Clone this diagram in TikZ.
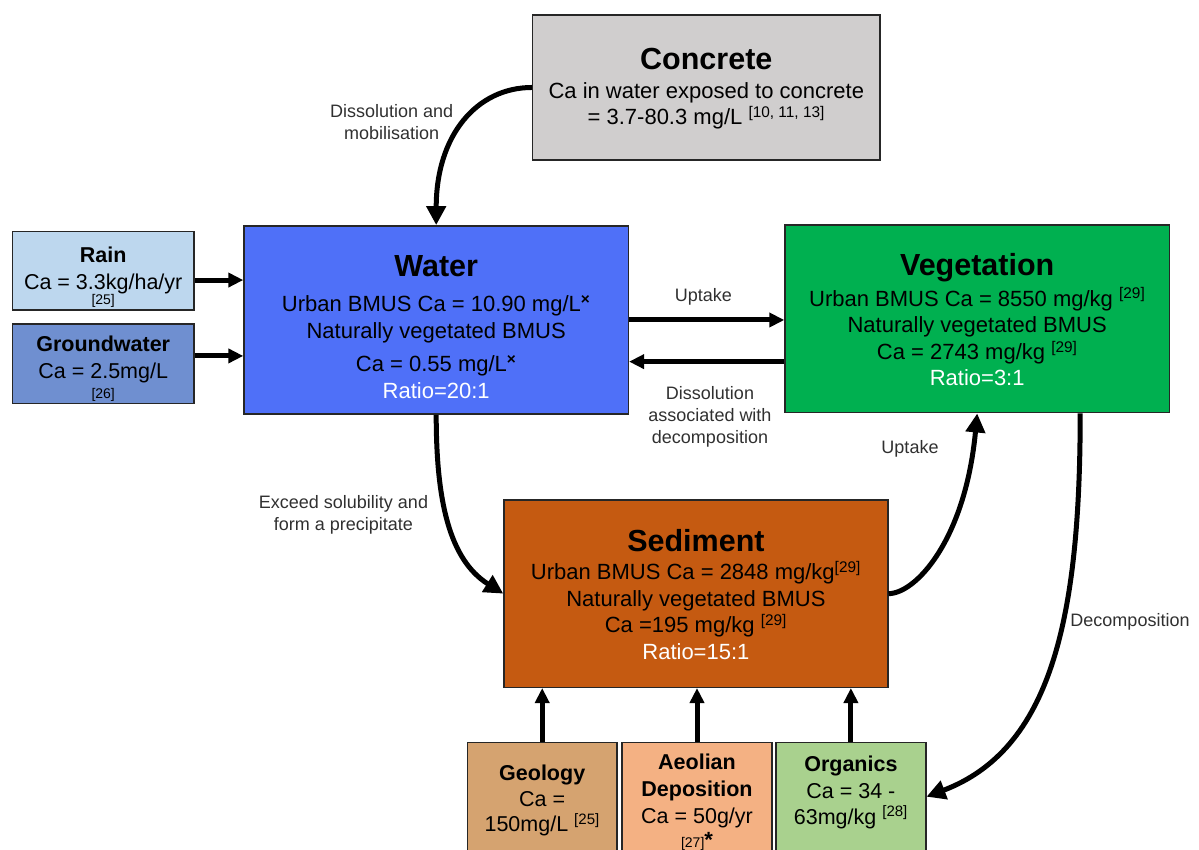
\documentclass[tikz,border=0pt]{standalone}
\usepackage{fontspec}
\setmainfont{Liberation Sans}
\usetikzlibrary{arrows.meta}

\definecolor{concretegrey}{HTML}{D0CECE}
\definecolor{rainblue}{HTML}{BDD7EE}
\definecolor{groundblue}{HTML}{6F8FD0}
\definecolor{waterblue}{HTML}{4F70F8}
\definecolor{veggreen}{HTML}{00B050}
\definecolor{sedbrown}{HTML}{C55A11}
\definecolor{geotan}{HTML}{D5A370}
\definecolor{aeolianpeach}{HTML}{F4B183}
\definecolor{organicsgreen}{HTML}{A9D18E}
\definecolor{labelgrey}{HTML}{303030}

\newcommand{\srcref}[1]{\textsuperscript{[#1]}}
\newcommand{\boxtitle}[1]{{\bfseries\fontsize{30.5}{30}\selectfont #1}}
\newcommand{\smallref}[1]{{\fontsize{14}{15}\selectfont [#1]}}

\begin{document}
\begin{tikzpicture}[x=1pt,y=1pt,
    arr/.style={line width=5pt, -{Triangle[length=15pt,width=14pt]}},
    curvearr/.style={line width=5pt, -{Triangle[length=19pt,width=19pt]}},
    lbl/.style={font=\fontsize{18}{22}\selectfont, text=labelgrey, align=center}]

        \useasboundingbox (0,0) rectangle (1199,850);
        \clip (0,0) rectangle (1199,850);

        \begin{scope}[every node/.style={draw=black!85, line width=1.5pt, align=center, inner sep=0pt, text depth=0pt}]
          \node[fill=concretegrey, minimum width=347.3, minimum height=145, text height=75,
                font=\fontsize{22}{26.7}\selectfont] (concrete) at (706.3,762.5)
                {\boxtitle{Concrete}\\[1.6pt] Ca in water exposed to concrete\\ = 3.7-80.3 mg/L \srcref{10, 11, 13}};
          \node[fill=rainblue, minimum width=181.7, minimum height=78.3, text height=68.3,
                font=\fontsize{21.5}{27.7}\selectfont] (rain) at (103.2,579.15)
                {{\bfseries Rain}\\ Ca = 3.3kg/ha/yr\\[-12.7pt] \smallref{25}};
          \node[fill=groundblue, minimum width=181.7, minimum height=79.3, text height=69.3,
                font=\fontsize{21.5}{26.6}\selectfont] (ground) at (103.2,486.35)
                {{\bfseries Groundwater}\\ Ca = 2.5mg/L\\[-6.6pt] \smallref{26}};
          \node[fill=waterblue, minimum width=384.3, minimum height=188.3, text height=158,
                font=\fontsize{22}{27.3}\selectfont] (water) at (436.2,530)
                {\boxtitle{Water}\\[7.7pt] Urban BMUS Ca = 10.90 mg/L\textsuperscript{\textbf{×}}\\
                 Naturally vegetated BMUS\\[5.4pt] Ca = 0.55 mg/L\textsuperscript{\textbf{×}}\\
                 \textcolor{white}{Ratio=20:1}};
          \node[fill=veggreen, minimum width=384.3, minimum height=187.7, text height=133.7,
                font=\fontsize{22}{26}\selectfont] (veg) at (977.2,531.15)
                {\boxtitle{Vegetation}\\[4.6pt] Urban BMUS Ca = 8550 mg/kg \srcref{29}\\
                 Naturally vegetated BMUS\\[1.3pt] Ca = 2743 mg/kg \srcref{29}\\
                 \textcolor{white}{Ratio=3:1}};
          \node[fill=sedbrown, minimum width=383.7, minimum height=187.3, text height=131.3,
                font=\fontsize{22}{26.5}\selectfont] (sed) at (695.9,256.35)
                {\boxtitle{Sediment}\\[1.8pt] Urban BMUS Ca = 2848 mg/kg\srcref{29}\\
                 Naturally vegetated BMUS\\ Ca =195 mg/kg \srcref{29}\\
                 \textcolor{white}{Ratio=15:1}};
          \node[fill=geotan, minimum width=149.7, minimum height=124, text height=54.8,
                font=\fontsize{21.5}{26}\selectfont] (geo) at (542.2,45.7)
                {{\bfseries Geology}\\ Ca =\\[-1pt] 150mg/L \srcref{25}};
          \node[fill=aeolianpeach, minimum width=150, minimum height=124, text height=86.8,
                font=\fontsize{21.5}{26}\selectfont] (aeolian) at (697,45.7)
                {{\bfseries Aeolian}\\[0.7pt] {\bfseries Deposition}\\[0.6pt] Ca = 50g/yr\\[-1.6pt]
                 \smallref{27}{\bfseries\fontsize{22}{22}\selectfont *}};
          \node[fill=organicsgreen, minimum width=149.7, minimum height=124, text height=40,
                font=\fontsize{21.5}{26}\selectfont] (organics) at (850.9,45.7)
                {{\bfseries Organics}\\[0.6pt] Ca = 34 -\\ 63mg/kg \srcref{28}};
        \end{scope}

        \node[lbl] (lbldissolve) at (391.7,727.7) {Dissolution and\\mobilisation};
        \node[lbl] (lbluptake) at (703.3,552.8) {Uptake};
        \node[lbl] (lbldecomp) at (710,433.5) {Dissolution\\associated with\\decomposition};
        \node[lbl] (lblprecip) at (343.5,335.4) {Exceed solubility and\\form a precipitate};
        \node[lbl] (lblroots) at (910,401.2) {Uptake};
        \node[lbl] (lbldecay) at (1130,227.9) {Decomposition};

        \coordinate (rainout) at ([yshift=-9.2pt]rain.east);
        \coordinate (groundout) at ([yshift=7.7pt]ground.east);
        \coordinate (vegout) at ([yshift=-42.8pt]veg.west);
        \coordinate (vegdown) at ([xshift=103pt]veg.south);
        \coordinate (organicsin) at ([yshift=7.6pt]organics.east);

        \draw[curvearr] (concrete.west) .. controls +(-55,0) and +(0,90) .. (water.north);
        \draw[arr] (rainout) -- (rainout -| water.west);
        \draw[arr] (groundout) -- (groundout -| water.west);
        \draw[arr] (water.east) -- (water.east -| veg.west);
        \draw[arr] (vegout) -- (vegout -| water.east);
        \draw[curvearr] (water.south) .. controls +(0,-86) and +(-54,34) .. (sed.west);
        \draw[curvearr] (sed.east) .. controls +(27,0) and +(-12,-127) .. (veg.south);
        \draw[curvearr] (vegdown) .. controls +(0,-207) and +(124,47) .. (organicsin);
        \draw[arr] (geo.north) -- (geo.north |- sed.south);
        \draw[arr] (aeolian.north) -- (aeolian.north |- sed.south);
        \draw[arr] (organics.north) -- (organics.north |- sed.south);

      \end{tikzpicture}
\end{document}
